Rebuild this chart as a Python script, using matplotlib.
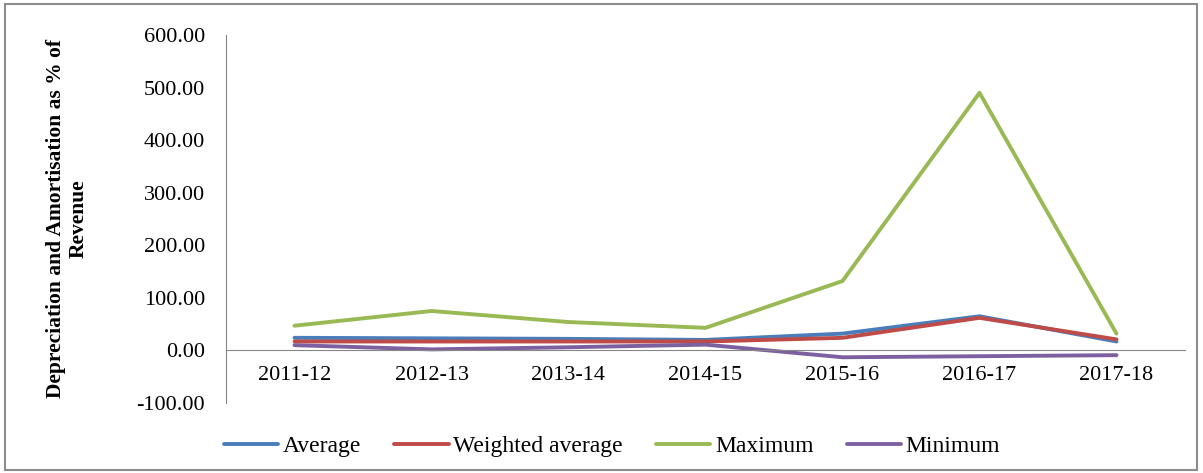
import matplotlib
matplotlib.use("Agg")
import matplotlib.pyplot as plt
from matplotlib.patches import Rectangle

# data
years = ["2011-12", "2012-13", "2013-14", "2014-15", "2015-16", "2016-17", "2017-18"]
average = [24, 23, 22, 20, 32, 65, 17]
weighted_average = [17, 17, 17, 17, 24, 62, 21]
maximum = [47, 75, 54, 43, 132, 490, 32]
minimum = [10, 2, 6, 11, -13, -11, -9]
yticks = [-100, 0, 100, 200, 300, 400, 500, 600]

series = [
    ("Average", average, "#4A7EBB"),
    ("Weighted average", weighted_average, "#BE4B48"),
    ("Maximum", maximum, "#98B954"),
    ("Minimum", minimum, "#7D60A0"),
]

serif = "Liberation Serif"

fig = plt.figure(figsize=(12.03, 4.73), dpi=100)
ax = fig.add_axes([226 / 1203, 1 - 403 / 473, 959 / 1203, 368 / 473])

# spine position first: it resets the tick objects
for s in ["top", "right"]:
    ax.spines[s].set_visible(False)
ax.spines["bottom"].set_position(("data", 0))
ax.spines["bottom"].set_color("#868686")
ax.spines["left"].set_color("#868686")

x = list(range(len(years)))
for name, vals, col in series:
    ax.plot(x, vals, color=col, lw=2.8, label=name, solid_capstyle="round")

ax.set_xlim(-0.5, len(years) - 0.5)
ax.set_ylim(-100, 600)
ax.set_yticks(yticks)
ax.set_yticklabels([f"{v:.2f}" for v in yticks], family=serif, fontsize=16)
ax.set_xticks(x)
ax.set_xticklabels(years, family=serif, fontsize=16)
ax.tick_params(axis="y", length=0, pad=15)
ax.tick_params(axis="x", length=0, pad=11)

ax.set_ylabel("Depreciation and Amortisation as % of\nRevenue",
              family=serif, fontweight="bold", fontsize=15.5,
              linespacing=1.2)
ax.yaxis.set_label_coords(-0.143, 0.5)

fig.legend(loc="center", bbox_to_anchor=(612 / 1203, 1 - 446 / 473), ncol=4,
           frameon=False, prop={"family": serif, "size": 17},
           handlelength=2.3, handletextpad=0.2, columnspacing=1.4)

fig.patches.append(Rectangle((5 / 1203, 3 / 473), 1192 / 1203, 466 / 473,
                             transform=fig.transFigure, fill=False,
                             edgecolor="#8c8c8c", lw=1.5))

fig.savefig("out.png", dpi=100)
